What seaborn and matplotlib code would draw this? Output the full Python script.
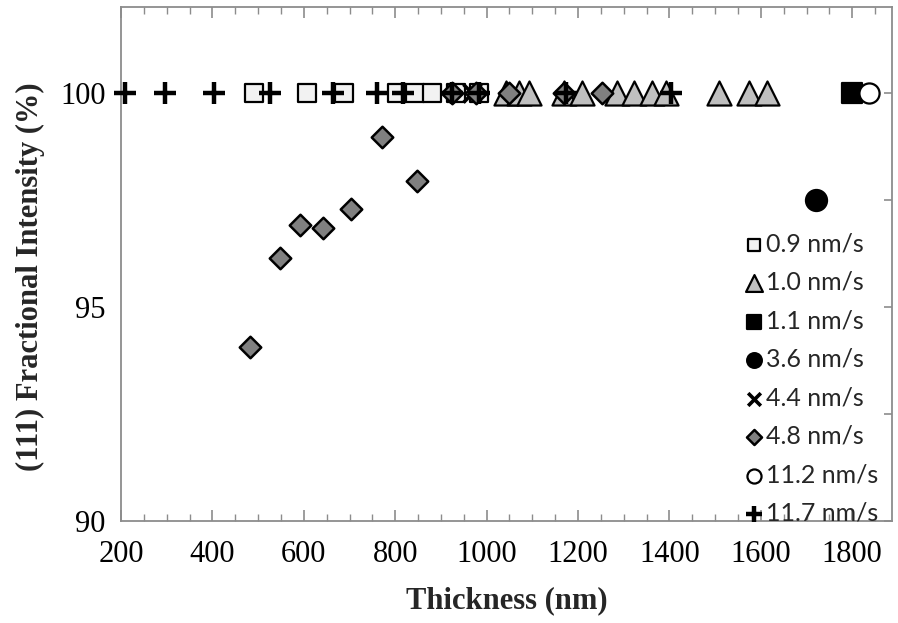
import matplotlib
matplotlib.use("Agg")
import matplotlib.pyplot as plt
import seaborn as sns
import pandas as pd
from matplotlib.ticker import MultipleLocator

sns.set_theme(style="white")

# ---- data ----
x_09 = [490, 608, 687, 803, 844, 881, 934, 984]
y_09 = [100, 100, 100, 100, 100, 100, 100, 100]

x_10 = [1043, 1071, 1093, 1170, 1209, 1285, 1323, 1362, 1392, 1508, 1574, 1613]
y_10 = [100, 100, 100, 100, 100, 100, 100, 100, 100, 100, 100, 100]

x_11 = [1799]
y_11 = [100]

x_36 = [1720]
y_36 = [97.5]

x_44 = [967]
y_44 = [100]

x_48 = [925, 977, 1049, 1170, 1253, 482, 547, 592, 641, 704, 771, 848]
y_48 = [100, 100, 100, 100, 100, 94.07, 96.13, 96.92, 96.83, 97.28, 98.97, 97.94]

x_112 = [1836]
y_112 = [100]

x_117 = [209, 296, 403, 525, 663, 761, 816, 925, 984, 1174, 1403]
y_117 = [100, 100, 100, 100, 100, 100, 100, 100, 100, 100, 100]

labels = ["0.9 nm/s", "1.0 nm/s", "1.1 nm/s", "3.6 nm/s",
          "4.4 nm/s", "4.8 nm/s", "11.2 nm/s", "11.7 nm/s"]
x_ticks = [200, 400, 600, 800, 1000, 1200, 1400, 1600, 1800]
y_ticks = [90, 95, 100]

series = [
    (x_09, y_09, dict(marker="s", s=170, color="#f2f2f2", edgecolor="black", linewidth=1.6)),
    (x_10, y_10, dict(marker="^", s=300, color="#bfbfbf", edgecolor="black", linewidth=1.6)),
    (x_11, y_11, dict(marker="s", s=190, color="black", edgecolor="black", linewidth=1.6)),
    (x_36, y_36, dict(marker="o", s=230, color="black", edgecolor="black", linewidth=1.6)),
    (x_44, y_44, dict(marker="x", s=170, color="black", linewidth=2.6)),
    (x_48, y_48, dict(marker="D", s=120, color="#808080", edgecolor="black", linewidth=1.8)),
    (x_112, y_112, dict(marker="o", s=210, color="white", edgecolor="black", linewidth=1.6)),
    (x_117, y_117, dict(marker="+", s=260, color="black", linewidth=3.2)),
]

fig = plt.figure(figsize=(8.98, 6.23), dpi=100)
ax = fig.add_axes([121 / 898, 1 - 521 / 623, (892 - 121) / 898, (521 - 7) / 623])

for (xs, ys, kw), lab in zip(series, labels):
    df = pd.DataFrame({"x": xs, "y": ys})
    sns.scatterplot(data=df, x="x", y="y", ax=ax, label=lab, zorder=3,
                    clip_on=False, **kw)

ax.set_xlim(200, 1887)
ax.set_ylim(90, 102)
ax.set_xticks(x_ticks)
ax.set_yticks(y_ticks)
ax.xaxis.set_minor_locator(MultipleLocator(50))
ax.yaxis.set_minor_locator(MultipleLocator(2.5))

for sp in ax.spines.values():
    sp.set_color("#8c8c8c")
    sp.set_linewidth(1.3)

ax.tick_params(axis="x", which="major", direction="in", length=8, width=1.2,
               color="#8c8c8c", top=True, bottom=True, pad=14)
ax.tick_params(axis="x", which="minor", direction="in", length=5, width=1.0,
               color="#8c8c8c", top=True, bottom=True)
ax.tick_params(axis="y", which="major", direction="in", length=6, width=1.2,
               color="#8c8c8c", left=False, right=True, pad=11)
ax.tick_params(axis="y", which="minor", direction="in", length=6, width=1.2,
               color="#8c8c8c", left=False, right=True)

for t in ax.get_xticklabels() + ax.get_yticklabels():
    t.set_fontfamily("Liberation Serif")
    t.set_fontsize(22)
    t.set_color("black")

ax.set_xlabel("Thickness (nm)", fontfamily="Liberation Serif", fontsize=22,
              fontweight="bold", labelpad=12)
ax.set_ylabel("(111) Fractional Intensity (%)", fontfamily="Liberation Serif",
              fontsize=22, fontweight="bold", labelpad=12)
ax.yaxis.set_label_coords(-0.098, 0.475)

handles, labs = ax.get_legend_handles_labels()
leg = ax.legend(handles, labs, loc="lower right", bbox_to_anchor=(0.998, -0.032),
                frameon=False, prop={"family": "Lato", "size": 18},
                handletextpad=0.0, labelspacing=0.62, borderpad=0,
                handlelength=0.9, markerscale=0.7)
for h in leg.legend_handles:
    h.set_clip_on(False)

fig.savefig("out.png", dpi=100)
